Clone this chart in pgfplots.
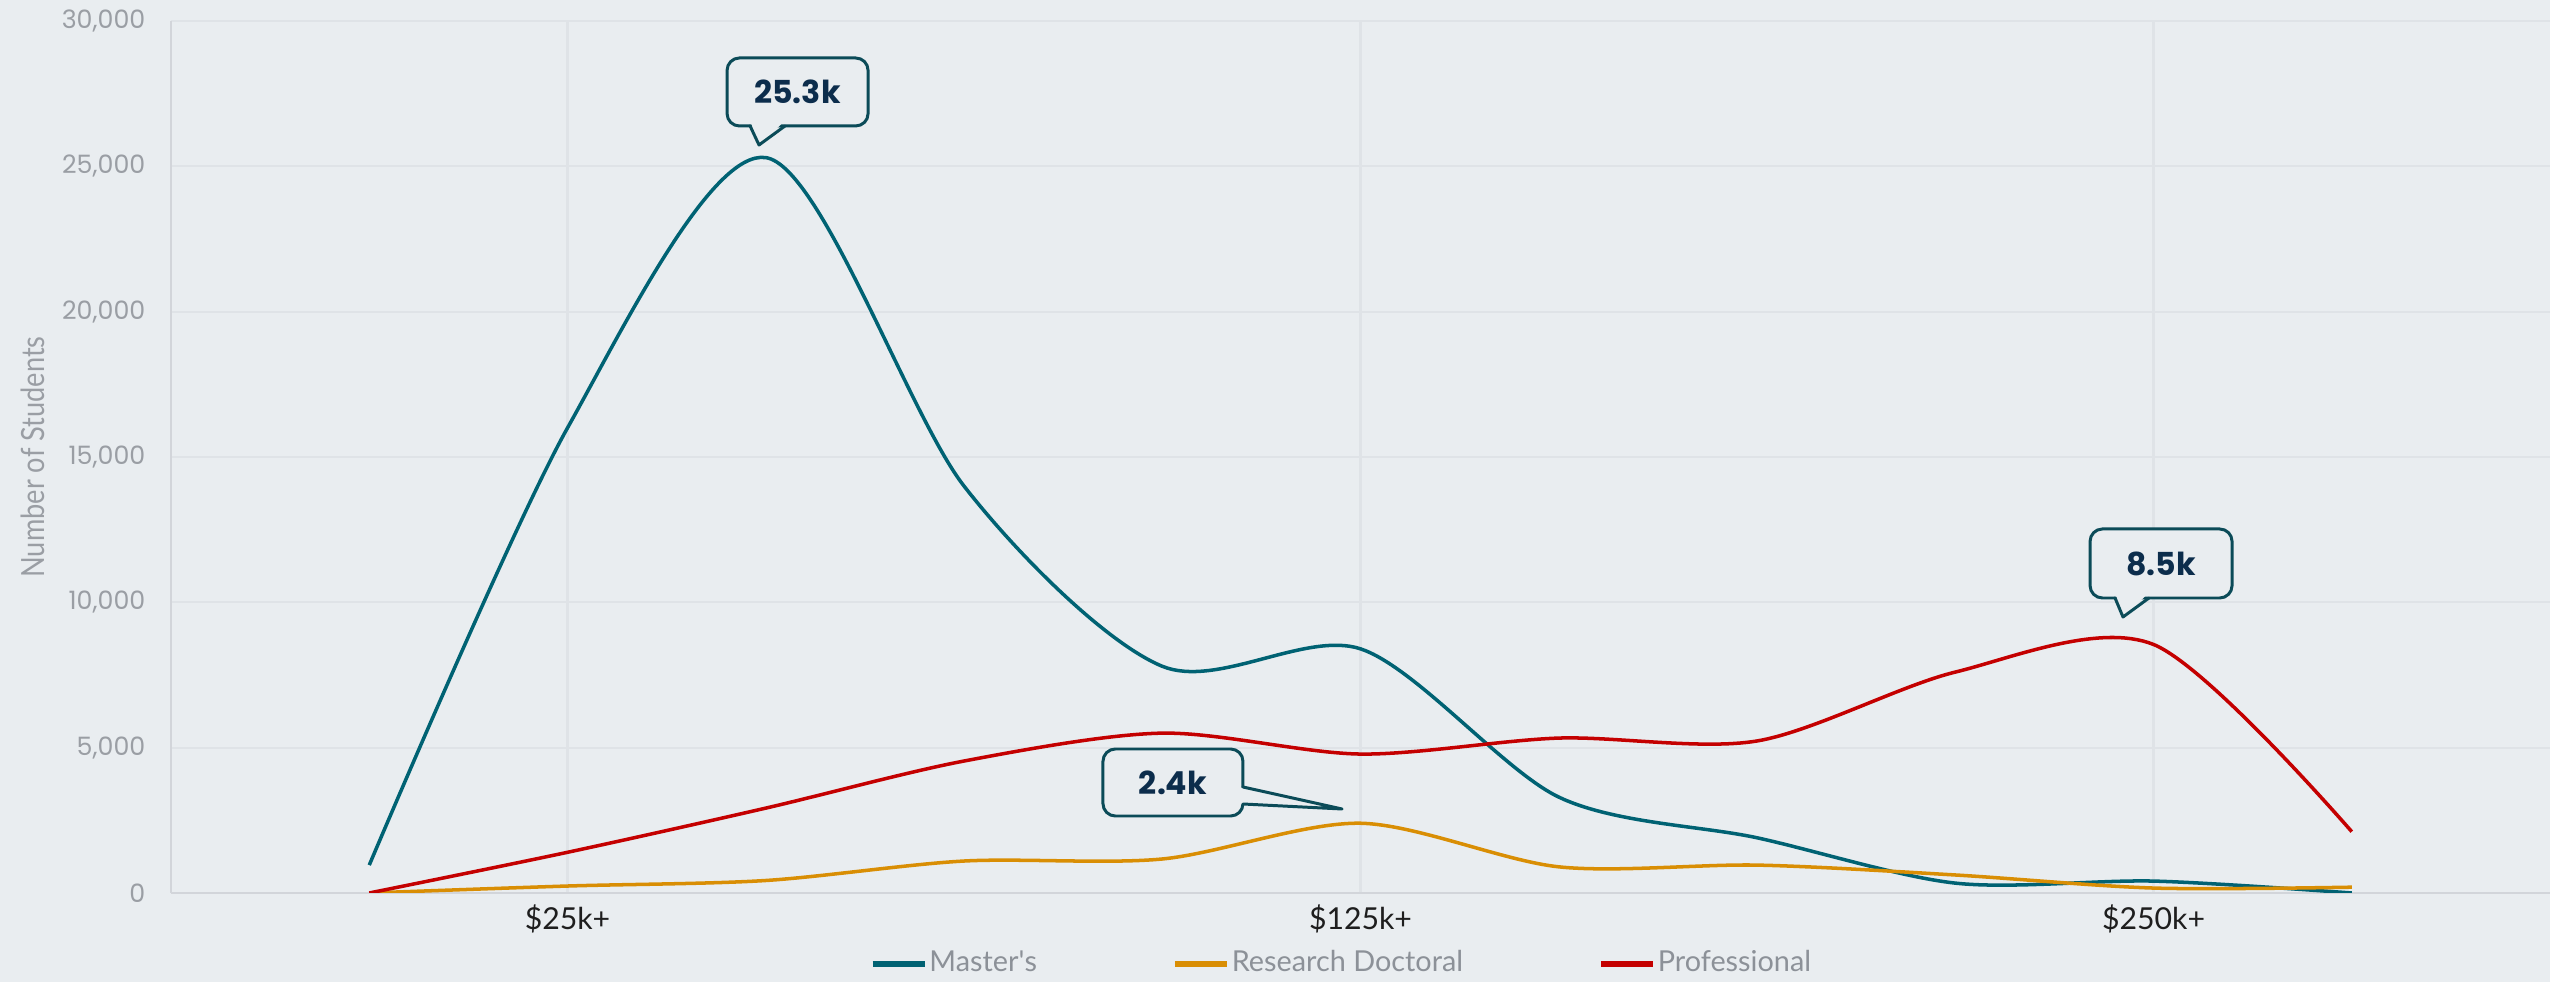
\documentclass[border=0pt]{standalone}
\usepackage{pgfplots}
\pgfplotsset{compat=1.18}
\usepackage{fontspec}
\usepackage{textcomp}
\setmainfont{Lato}
\newfontfamily\condfont[FakeStretch=0.85]{Lato}
\newfontfamily\popfont{Poppins}
\definecolor{bgc}{HTML}{E9EDF0}
\definecolor{gridc}{HTML}{DFE3E7}
\definecolor{axisc}{HTML}{D2D5DA}
\definecolor{tickgray}{HTML}{9A9EA4}
\definecolor{leggray}{HTML}{8C9198}
\definecolor{xtickc}{HTML}{1E1E1E}
\definecolor{mastc}{HTML}{006273}
\definecolor{docc}{HTML}{D98E04}
\definecolor{profc}{HTML}{C40000}
\definecolor{callc}{HTML}{0B4B58}
\definecolor{calltext}{HTML}{0C2D4C}
\tikzset{callbox/.style={draw=callc, line width=0.85pt, fill=bgc, rounded corners=3.5pt},
  callptr/.style={draw=callc, line width=0.85pt, line join=round, line cap=round},
  calltxt/.style={font=\popfont\bfseries\fontsize{9}{10}\selectfont, text=calltext}}
\begin{document}
\begin{tikzpicture}
\fill[bgc] (-1.71cm,-0.89cm) rectangle (23.79cm,8.93cm);
\begin{axis}[
  at={(0,0)}, anchor=south west,
  scale only axis, width=23.79cm, height=8.72cm,
  xmin=-1, xmax=11, ymin=0, ymax=30000,
  axis x line=bottom, axis y line=left,
  axis line style={draw=axisc, line width=0.8pt, -},
  xtick={1,5,9}, xticklabels={\$25k+,\$125k+,\$250k+},
  ytick={0,5000,10000,15000,20000,25000,30000},
  scaled y ticks=false,
  /pgf/number format/1000 sep={,},
  /pgf/number format/assume math mode=true,
  major tick length=0pt,
  grid=major,
  major grid style={draw=gridc, line width=0.6pt},
  yticklabel style={font=\popfont\fontsize{7.2}{8}\selectfont, text=tickgray, inner sep=0pt, anchor=east, xshift=-0.25cm},
  xticklabel style={font=\fontsize{8.6}{10}\selectfont, text=xtickc, inner sep=0pt, anchor=base, yshift=-0.37cm},
  ylabel={Number of Students},
  ylabel style={at={(axis description cs:-0.058,0.5)}, anchor=center, font=\condfont\fontsize{9.1}{10}\selectfont, text=tickgray, inner sep=0pt},
  legend columns=3,
  legend style={at={(0.492,-0.0814)}, anchor=center, draw=none, fill=none,
    font=\fontsize{8.2}{10}\selectfont, text=leggray,
    /tikz/every even column/.append style={column sep=1.33cm},
    inner sep=0pt, nodes={inner sep=0.6pt}},
  legend cell align=left,
  legend image code/.code={\draw[#1, line width=1.6pt] (0cm,0cm) -- (0.52cm,0cm);},
]
\addplot[mastc, line width=1pt, smooth] coordinates {(0,960) (1,16000) (2,25300) (3,14000) (4,7800) (5,8400) (6,3300) (7,1900) (8,340) (9,410) (10,0)};
\addlegendentry{Master\textquotesingle s}
\addplot[docc, line width=1pt, smooth] coordinates {(0,0) (1,240) (2,430) (3,1100) (4,1170) (5,2400) (6,900) (7,960) (8,620) (9,170) (10,200)};
\addlegendentry{Research Doctoral}
\addplot[profc, line width=1pt, smooth] coordinates {(0,0) (1,1400) (2,2920) (3,4540) (4,5500) (5,4780) (6,5330) (7,5230) (8,7600) (9,8550) (10,2110)};
\addlegendentry{Professional}

% callout 25.3k
\draw[callbox] (axis cs:1.805,26388) rectangle (axis cs:2.516,28727);
\fill[bgc] ([yshift=1.5pt]axis cs:1.921,26388) -- (axis cs:1.966,25734) -- ([yshift=1.5pt]axis cs:2.097,26388) -- cycle;
\draw[callptr] (axis cs:1.921,26388) -- (axis cs:1.966,25734) -- (axis cs:2.097,26388);
\node[calltxt] at (axis cs:2.16,27557) {25.3k};
% callout 8.5k
\draw[callbox] (axis cs:8.680,10149) rectangle (axis cs:9.396,12523);
\fill[bgc] ([yshift=1.5pt]axis cs:8.806,10149) -- (axis cs:8.846,9495) -- ([yshift=1.5pt]axis cs:8.977,10149) -- cycle;
\draw[callptr] (axis cs:8.806,10149) -- (axis cs:8.846,9495) -- (axis cs:8.977,10149);
\node[calltxt] at (axis cs:9.038,11336) {8.5k};
% callout 2.4k
\draw[callbox] (axis cs:3.701,2649) rectangle (axis cs:4.407,4954);
\fill[bgc] ([xshift=-1.5pt]axis cs:4.407,3647) -- (axis cs:4.907,2890) -- ([xshift=-1.5pt]axis cs:4.407,3062) -- cycle;
\draw[callptr] (axis cs:4.407,3647) -- (axis cs:4.907,2890) -- (axis cs:4.407,3062);
\node[calltxt] at (axis cs:4.054,3802) {2.4k};
\end{axis}
\pgfresetboundingbox
\useasboundingbox (-1.71cm,-0.89cm) rectangle (23.79cm,8.93cm);
\end{tikzpicture}
\end{document}
